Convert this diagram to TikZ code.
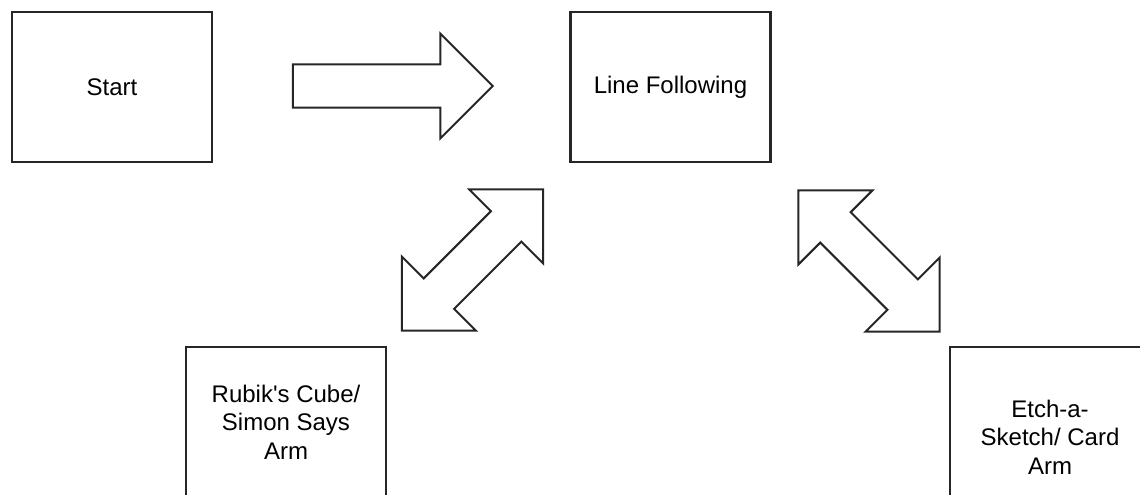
\documentclass[tikz,border=0pt]{standalone}
\usepackage{fontspec}
\setmainfont{Liberation Sans}
\usetikzlibrary{shapes.arrows}
\definecolor{Ink}{HTML}{262626}

\begin{document}
\begin{tikzpicture}[x=1pt,y=-1pt,
    stage/.style={draw=Ink,line width=2.6pt,fill=white,
          minimum width=200pt,minimum height=150pt,align=center,
          inner sep=0pt,font=\fontsize{24}{28.5}\selectfont},
    fatarrow/.style={draw=Ink,line width=2pt,single arrow,
          single arrow head extend=31pt,minimum height=200pt,
          inner xsep=0pt,inner ysep=20.5pt},
    twoway/.style={draw=Ink,line width=2pt,double arrow,
          double arrow head extend=31pt,minimum height=200pt,
          inner xsep=0pt,inner ysep=20.5pt}]
    \useasboundingbox (0,0) rectangle (1140,495);
    % stages
    \node[stage] (start) at (112,87) {Start};
    \node[stage] (follow) at (670.5,87) {Line Following};
    \node[stage] (rubik) at (286,422) {Rubik\textquotesingle s Cube/\\Simon Says\\Arm};
    \node[stage,minimum height=180pt] (etch) at (1050,437) {Etch-a-\\Sketch/ Card\\Arm};
    % block arrows between stages
    \node[fatarrow] (go) at (382,86) {};
    \node[twoway,rotate=45] (toarm) at (472.5,260) {};
    \node[twoway,rotate=135] (tosketch) at (869,261) {};
\end{tikzpicture}
\end{document}
